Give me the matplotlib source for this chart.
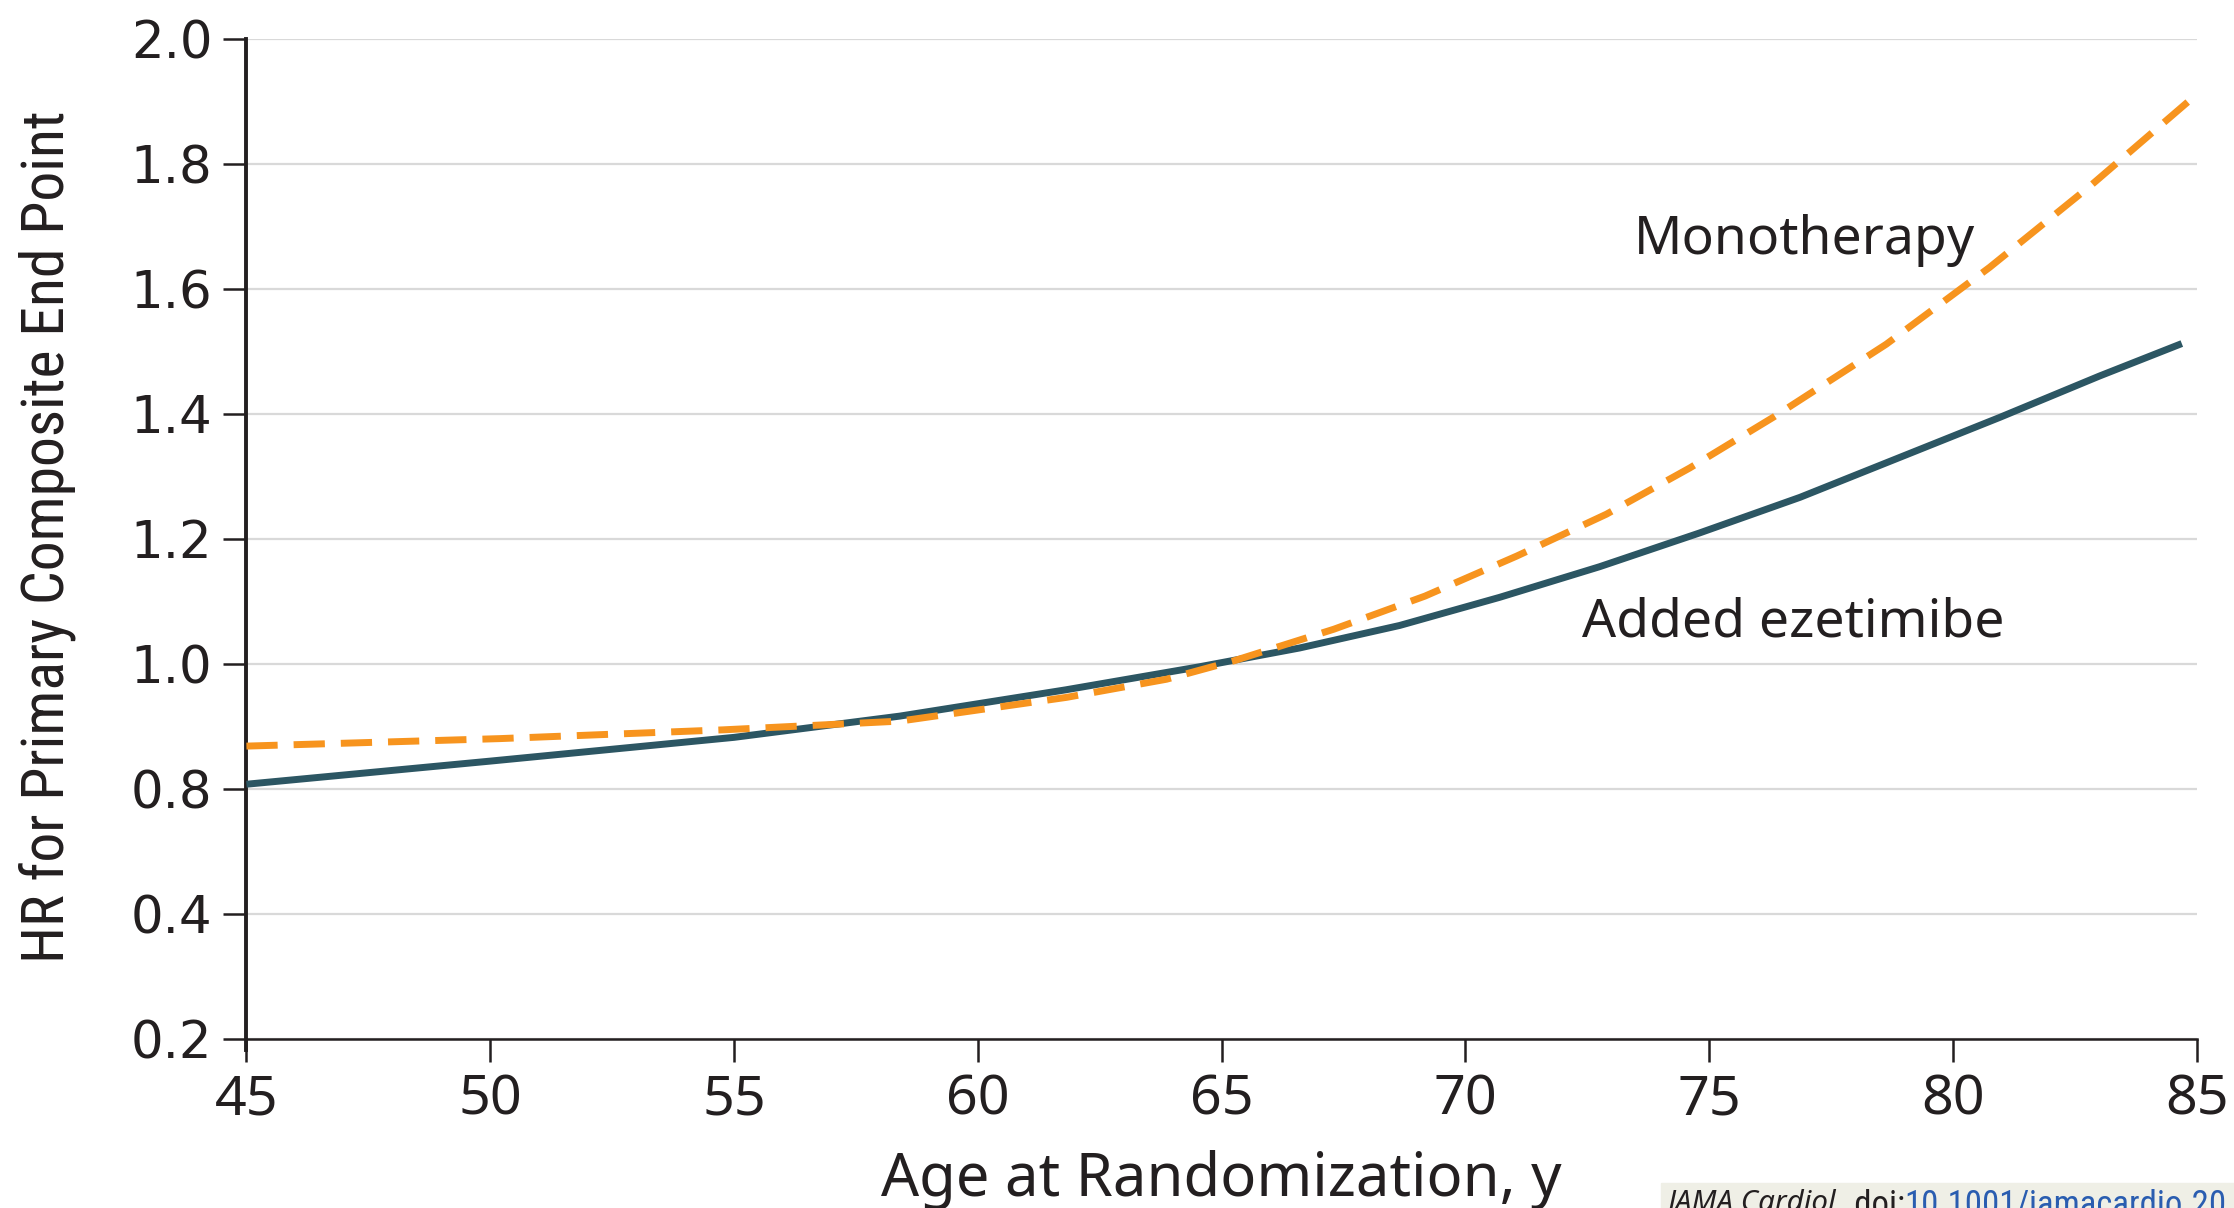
import matplotlib
matplotlib.use('Agg')
import matplotlib.pyplot as plt
from matplotlib import font_manager
from matplotlib.font_manager import FontProperties
from matplotlib.patches import Rectangle

# values
ages_ezetimibe = [45, 50, 55, 58.4, 61.8, 64.55, 66.6, 68.65, 70.7, 72.75, 74.8, 76.86, 80.96, 83.0, 84.69]
hr_ezetimibe = [0.807, 0.844, 0.882, 0.916, 0.958, 0.995, 1.025, 1.061, 1.106, 1.155, 1.209, 1.266,
                1.394, 1.460, 1.512]
ages_mono = [45, 50.2, 54.77, 58.4, 61.82, 63.87, 65.23, 67.3, 69.17, 71.05, 72.89, 74.6, 76.31,
             78.63, 80.75, 82.81, 84.82]
hr_mono = [0.868, 0.880, 0.894, 0.908, 0.946, 0.975, 1.004, 1.055, 1.108, 1.172, 1.239, 1.313, 1.394,
           1.511, 1.634, 1.764, 1.899]

x_ticks = [45, 50, 55, 60, 65, 70, 75, 80, 85]
y_ticks = [0.4, 0.6, 0.8, 1.0, 1.2, 1.4, 1.6, 1.8, 2.0]
y_tick_labels = ['0.2', '0.4', '0.8', '1.0', '1.2', '1.4', '1.6', '1.8', '2.0']

TEXT = '#231F20'
TEAL = '#2C5663'
ORANGE = '#F7941E'

# narrow face for the y label and the source line
prefs = ['Roboto', 'Open Sans', 'Noto Sans', 'Liberation', 'DejaVu']
narrow = []
for f in font_manager.fontManager.ttflist:
    if f.style != 'normal' or f.weight != 400:
        continue
    if f.stretch in ('condensed', 'semi-condensed') or 'Condensed' in f.name or 'Narrow' in f.name:
        rank = next((i for i, p in enumerate(prefs) if p in f.name), len(prefs))
        narrow.append((rank, f.fname))
narrow.sort()


def cond(size, style='normal'):
    if narrow and style == 'normal':
        return FontProperties(fname=narrow[0][1], size=size)
    return FontProperties(family='Noto Sans', size=size * 0.85, style=style, stretch='condensed')


def sans(size):
    return FontProperties(family='Noto Sans', size=size)


fig = plt.figure(figsize=(22.34, 12.08), dpi=100)
ax = fig.add_axes([0.1103, 0.1402, 0.9834 - 0.1103, 0.9681 - 0.1402])

ax.plot(ages_ezetimibe, hr_ezetimibe, color=TEAL, lw=5, solid_capstyle='butt', zorder=3)
ax.plot(ages_mono, hr_mono, color=ORANGE, lw=5, dashes=(4.5, 2.3), zorder=4)

ax.set_xlim(45, 85)
ax.set_ylim(0.4, 2.0)
ax.set_xticks(x_ticks)
ax.set_yticks(y_ticks)
ax.set_yticklabels(y_tick_labels, family='DejaVu Sans', fontsize=37, color=TEXT)
for lab in ax.get_xticklabels():
    lab.set_fontproperties(sans(40))
    lab.set_color(TEXT)

ax.grid(axis='y', color='#D9D9D9', lw=1.6)
ax.set_axisbelow(True)
ax.spines['top'].set_visible(False)
ax.spines['right'].set_visible(False)
ax.spines['left'].set_linewidth(2.8)
ax.spines['bottom'].set_linewidth(1.8)
ax.spines['left'].set_color(TEXT)
ax.spines['bottom'].set_color(TEXT)
ax.spines['left'].set_bounds(0.382, 2.0)
ax.tick_params(length=16.5, width=1.8, pad=8, color=TEXT)

ax.set_xlabel('Age at Randomization, y', fontproperties=sans(43), color=TEXT, va='center')
ax.xaxis.set_label_coords(0.5, -0.141)
ax.set_ylabel('HR for Primary Composite End Point', fontproperties=cond(43), color=TEXT, va='center')
ax.yaxis.set_label_coords(-0.1023, 0.5016)

ax.text(73.46, 1.655, 'Monotherapy', fontproperties=sans(38.5), color=TEXT, va='baseline')
ax.text(72.38, 1.043, 'Added ezetimibe', fontproperties=sans(38.5), color=TEXT, va='baseline')

# source strip, cut off at the bottom right like the original
fig.add_artist(Rectangle((1661 / 2234, 0), (2234 - 1661) / 2234, 25 / 1208,
                         transform=fig.transFigure, color='#EFEFE6', zorder=0))
t1 = fig.text(1668 / 2234, 1 - 1189 / 1208, 'JAMA Cardiol', fontproperties=cond(25, 'italic'),
              color=TEXT, va='top')
t2 = ax.annotate('. doi:', xy=(1, 1), xycoords=t1, va='top', fontproperties=cond(25),
                 color=TEXT, annotation_clip=False)
ax.annotate('10.1001/jamacardio.20', xy=(1, 1), xycoords=t2, va='top', fontproperties=cond(25),
            color='#2A5DB0', annotation_clip=False)

fig.savefig('out.png', dpi=100)
